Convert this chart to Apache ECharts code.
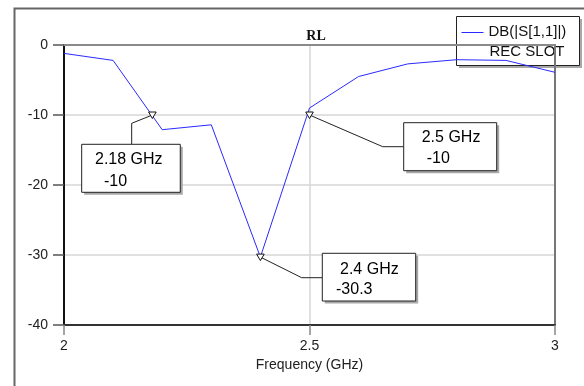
<!DOCTYPE html>
<html>
<head>
<meta charset="utf-8">
<title>RL</title>
<script src="https://cdn.jsdelivr.net/npm/echarts@6/dist/echarts.min.js"></script>
<style>
  html, body { margin: 0; padding: 0; background: #fff; }
  #chart { width: 584px; height: 386px; }
</style>
</head>
<body>
<div id="chart"></div>
<script>
// Return loss of the rectangular-slot antenna, |S11| in dB
const freqGHz = [2.0, 2.1, 2.2, 2.3, 2.4, 2.5, 2.6, 2.7, 2.8, 2.9, 3.0];
const s11dB   = [-1.2, -2.2, -12.1, -11.4, -30.3, -9.0, -4.5, -2.7, -2.1, -2.2, -3.9];

// Marker readouts
const markerFreq = [2.18, 2.4, 2.5];
const markerDB   = [-10, -30.3, -10];

// Axis ticks
const xTicks = [2, 2.5, 3];
const yTicks = [-40, -30, -20, -10, 0];

const seriesName = 'DB(|S[1,1]|)';
const projectName = 'REC SLOT';

// Callout placement relative to each marker (pixels)
const callouts = [
  { leader: [[0, 0], [-20.7, 8.3], [-20.7, 29.3]], box: [-70.7, 29.3, 98.6, 48], t1: [-57.4, 44.5], t2: [-48.4, 66.5] },
  { leader: [[0, 0], [41.3, 20.6], [61.9, 20.6]],  box: [61.9, -3.8, 93.4, 47.7], t1: [79.6, 12.9],  t2: [75.6, 32.9] },
  { leader: [[0, 0], [73.2, 31.7], [94.2, 31.7]],  box: [94.2, 7.7, 93, 48],      t1: [112.2, 23],   t2: [117.2, 43.3] }
];

const FONT = "'Liberation Sans', Arial, sans-serif";
const chart = echarts.init(document.getElementById('chart'), null, { renderer: 'canvas' });

function renderMarker(params, api) {
  const p = api.coord([api.value(0), api.value(1)]);
  const c = callouts[params.dataIndex];
  const [bx, by, bw, bh] = c.box;
  const f = api.value(0), v = api.value(1);
  return {
    type: 'group',
    children: [
      { type: 'polyline', shape: { points: c.leader.map(d => [p[0] + d[0], p[1] + d[1]]) },
        style: { stroke: '#222', lineWidth: 1, fill: null } },
      { type: 'polygon', shape: { points: [[p[0] - 3.8, p[1] - 3], [p[0] + 3.8, p[1] - 3], [p[0], p[1] + 3.5]] },
        style: { fill: '#fff', stroke: '#111', lineWidth: 1 } },
      { type: 'rect', shape: { x: p[0] + bx + 2.5, y: p[1] + by + 2.5, width: bw, height: bh },
        style: { fill: '#a8a8a8' } },
      { type: 'rect', shape: { x: p[0] + bx, y: p[1] + by, width: bw, height: bh },
        style: { fill: '#fff', stroke: '#222', lineWidth: 1 } },
      { type: 'text', x: p[0] + c.t1[0], y: p[1] + c.t1[1],
        style: { text: f + ' GHz', font: '16px ' + FONT, fill: '#000', verticalAlign: 'middle', align: 'left' } },
      { type: 'text', x: p[0] + c.t2[0], y: p[1] + c.t2[1],
        style: { text: String(v), font: '16px ' + FONT, fill: '#000', verticalAlign: 'middle', align: 'left' } }
    ]
  };
}

const option = {
  backgroundColor: '#fff',
  animation: false,
  title: {
    text: 'RL',
    left: 311,
    textAlign: 'center',
    top: 24,
    textStyle: { fontFamily: "'Liberation Serif', 'Times New Roman', serif", fontWeight: 'bold', fontSize: 14, color: '#111' }
  },
  grid: { left: 64, right: 29, top: 45, bottom: 61, containLabel: false },
  xAxis: [
    {
      type: 'value',
      min: xTicks[0], max: xTicks[xTicks.length - 1], interval: xTicks[1] - xTicks[0],
      name: 'Frequency (GHz)', nameLocation: 'middle', nameGap: 33,
      nameTextStyle: { fontFamily: FONT, fontSize: 14, color: '#222' },
      axisLine: { onZero: false, lineStyle: { color: '#333', width: 2 } },
      axisTick: { show: true, inside: false, length: 10, lineStyle: { color: '#888', width: 1.5 } },
      axisLabel: { margin: 14, fontFamily: FONT, fontSize: 14, color: '#222' },
      splitLine: { show: true, lineStyle: { color: '#d6d6d6', width: 1.5 } }
    },
    {
      type: 'value', position: 'top',
      min: xTicks[0], max: xTicks[xTicks.length - 1],
      axisLine: { onZero: false, lineStyle: { color: '#8a8a8a', width: 2 } },
      axisTick: { show: false }, axisLabel: { show: false }, splitLine: { show: false }
    }
  ],
  yAxis: [
    {
      type: 'value',
      min: yTicks[0], max: yTicks[yTicks.length - 1], interval: yTicks[1] - yTicks[0],
      axisLine: { onZero: false, lineStyle: { color: '#111', width: 2 } },
      axisTick: { show: true, inside: false, length: 11, lineStyle: { color: '#555', width: 1.5 } },
      axisLabel: { margin: 16, fontFamily: FONT, fontSize: 14, color: '#222' },
      splitLine: { show: true, lineStyle: { color: '#d6d6d6', width: 1.5 } }
    },
    {
      type: 'value', position: 'right',
      min: yTicks[0], max: yTicks[yTicks.length - 1],
      axisLine: { show: true, onZero: false, lineStyle: { color: '#777', width: 2 } },
      axisTick: { show: false }, axisLabel: { show: false }, splitLine: { show: false }
    }
  ],
  series: [
    {
      name: seriesName,
      type: 'line',
      data: freqGHz.map((f, i) => [f, s11dB[i]]),
      symbol: 'none',
      lineStyle: { color: '#2a2aff', width: 1 },
      z: 3
    },
    {
      name: 'markers',
      type: 'custom',
      data: markerFreq.map((f, i) => [f, markerDB[i]]),
      encode: { x: 0, y: 1 },
      renderItem: renderMarker,
      clip: false,
      z: 5
    }
  ],
  graphic: [
    {
      type: 'rect', left: 12, top: 6, z: 0, silent: true,
      shape: { width: 620, height: 420 },
      style: { fill: null, stroke: '#666', lineWidth: 2 }
    },
    {
      type: 'group', left: 456, top: 16, z: 10,
      children: [
        { type: 'rect', shape: { x: 2.5, y: 2.5, width: 123, height: 49 }, style: { fill: '#a8a8a8' } },
        { type: 'rect', shape: { x: 0, y: 0, width: 123, height: 49 }, style: { fill: '#fff', stroke: '#222', lineWidth: 1 } },
        { type: 'line', shape: { x1: 5, y1: 16, x2: 27, y2: 16 }, style: { stroke: '#2a2aff', lineWidth: 1 } },
        { type: 'text', x: 32, y: 15, style: { text: seriesName, font: '15px ' + FONT, fill: '#111', verticalAlign: 'middle' } },
        { type: 'text', x: 33, y: 35, style: { text: projectName, font: '15px ' + FONT, fill: '#111', verticalAlign: 'middle' } }
      ]
    }
  ]
};

chart.setOption(option);
</script>
</body>
</html>
